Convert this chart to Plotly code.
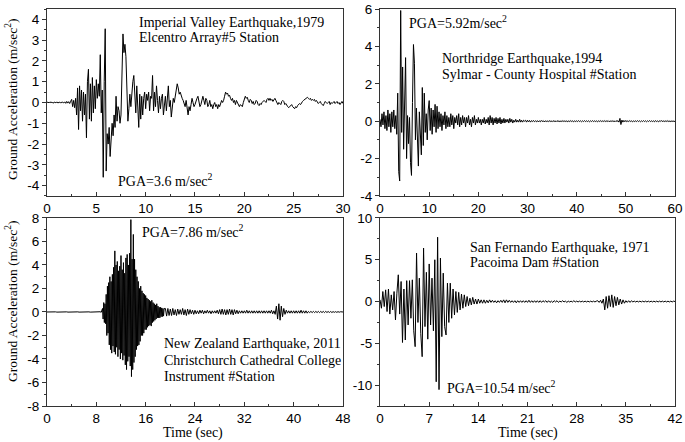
import numpy as np
import plotly.graph_objects as go

# ---------------- data ----------------
imperial_end = 30.0
imperial_acc = [
    0, 0.02, -0.02, 0.03, -0.01, 0.02, -0.03, 0.01, 0.02, -0.02, 0.03, -0.02, 0.01, 0.02, -0.03, 0.02, 0.01, -0.02, 0.03, -0.04, 0.05, -0.03, 0.04, -0.05, 0.06,
    0.15, -0.2, 0.1, -0.25, 0.2,
    -0.6, 0.7, -1.3, 0.8, -0.4, 0.6, -0.9, 0.5, -0.6, 0.4,
    -1.7, 1.0, 1.6, -0.8, 0.9, -0.9, 1.2, -0.5, 0.8, -0.3,
    1.1, 0.2, 0.9, 0.3, 2.3, -0.5, 0.6, -3.6, 1.0, 3.55,
    -3.3, -1.5, -2.0, -1.2, -2.6, -1.8, -1.0, -1.6, -0.6, -1.2,
    0.3, -0.9, -0.2, -0.4, -1.0, -0.6, 1.2, 3.3, 2.4, 2.8,
    2.2, 0.8, -0.9, -0.3, 0.4, -0.2, 0.6, 1.0, 1.3, 0.2,
    -0.5, 0.8, -0.3, -1.2, 0.4, -0.8, 0.3, -0.6, 0.2, 0.5,
    -0.3, 0.4, 0.1, 0.5, -0.4, 0.3, 0.2, 1.3, -0.4, 0.5,
    -0.2, 0.8, 0.1, -0.5, 0.3, -0.3, 0.2, 0.4, -0.6, 0.1,
    0.3, -0.4, 0.2, 0.8, -0.2, 0.1, -0.7, -0.3, 0.2, 0.0,
    0.3, 0.6, 0.9, 0.7, 0.4, 0.5, 0.3, 0.2, 0.1, -0.1,
    -0.2, 0.1, -0.4, -0.6, -0.2, -0.4, -0.1, 0.2, 0.0, -0.2,
    -0.1, 0.1, 0.2, 0.3, 0.1, -0.2, -0.1, 0.2, 0.3, 0.1,
    -0.1, 0.2, 0.1, -0.2, -0.1, 0.1, -0.2, -0.1, -0.3, -0.1,
    0.0, -0.2, -0.1, -0.3, -0.1, -0.2, 0.0, 0.1, 0.0, 0.1,
    0.3, 0.5, 0.4, 0.45, 0.3, 0.35, 0.2, 0.1, 0.2, 0.0,
    0.1, -0.1, 0.1, 0.0, -0.1, -0.2, -0.1, -0.15, -0.2, 0.0,
    0.2, 0.3, 0.2, 0.25, 0.1, 0.0, 0.15, 0.1, -0.05, 0.05,
    -0.1, -0.05, 0.1, 0.05, -0.1, -0.15, -0.05, -0.1, 0.0, 0.05,
    0.1, 0.05, 0.0, 0.15, 0.2, 0.1, 0.2, 0.1, 0.15, 0.05,
    0.1, 0.2, 0.1, -0.05, -0.1, 0.0, -0.05, -0.1, 0.05, 0.1,
    0.05, -0.1, -0.05, -0.15, -0.2, -0.25, -0.2, -0.15, -0.1, -0.2,
    -0.25, -0.3, -0.2, -0.25, -0.15, -0.1, -0.05, -0.1, 0.0, 0.05,
    0.1, 0.15, 0.2, 0.2, 0.25, 0.2, 0.15, 0.2, 0.1, 0.15,
    0.1, 0.15, 0.05, 0.1, 0.0, -0.05, 0.0, 0.05, -0.05, -0.1,
    -0.15, -0.05, 0.05, 0.0, -0.05, 0.0, 0.05, -0.1, 0.0, -0.05,
    0.0, 0.05, -0.05, 0.0, 0.05, -0.05, 0.0, -0.1, 0.0, 0.05, -0.05,
]

northridge_end = 60.0
northridge_acc = [
    0.1, -0.3, 0.4, -0.2, 0.5, -0.4, 0.3, -0.5, 0.6, -0.3,
    0.4, -0.6, 0.5, -0.3, 0.6, -0.4, 0.3, -0.7, 1.5, -2.7,
    -3.2, 5.92, -0.6, 2.9, -1.5, 0.8, 3.4, -2.0, 0.3, -1.2,
    0.2, -2.2, -2.9, 1.0, 4.1, 3.1, -1.0, 0.7, -0.8, -2.4,
    0.5, -0.9, -1.8, 1.8, -1.3, 1.5, -0.6, 0.4, -1.0, 0.6,
    1.1, -0.5, 0.7, -0.7, 0.6, -0.3, 0.9, -0.6, 0.8, -0.4,
    0.5, -0.3, 0.4, -0.5, 0.3, -0.2, 0.5, -0.4, 0.3, -0.3,
    0.2, -0.3, 0.4, -0.2, 0.3, -0.4, 0.2, -0.1, 0.3, -0.2,
    0.4, -0.3, 0.2, -0.2, 0.3, -0.1, 0.2, -0.3, 0.2, -0.1,
    0.3, -0.2, 0.1, -0.3, 0.2, -0.1, 0.3, -0.2, 0.1, -0.1,
    0.2, -0.1, 0.1, -0.2, 0.1, -0.1, 0.2, -0.15, 0.1, -0.1,
    0.2, -0.2, 0.3, -0.1, 0.2, -0.2, 0.15, -0.1, 0.2, -0.15,
    0.15, -0.1, 0.2, -0.15, 0.1, -0.1, 0.15, -0.1, 0.1, -0.05,
    0.1, -0.1, 0.15, -0.05, 0.1, -0.1, 0.05, -0.05, 0.1, -0.05,
    0.05, -0.05, 0.1, -0.05, 0.05, -0.05, 0.05, 0.0, 0.05, -0.05,
    0.05, -0.03, 0.04, -0.05, 0.03, -0.02, 0.04, -0.03, 0.02, -0.03,
    0.03, -0.04, 0.02, -0.03, 0.04, -0.02, 0.03, -0.04, 0.02, -0.02,
    0.02, -0.03, 0.03, -0.02, 0.02, -0.03, 0.03, -0.02, 0.02, -0.03,
    0.03, -0.02, 0.02, -0.03, 0.02, -0.02, 0.03, -0.02, 0.02, -0.02,
    0.02, -0.03, 0.02, -0.02, 0.03, -0.02, 0.02, -0.03, 0.02, -0.02,
    0.02, -0.02, 0.03, -0.02, 0.02, -0.03, 0.02, -0.02, 0.03, -0.02,
    0.02, -0.02, 0.02, -0.03, 0.02, -0.02, 0.03, -0.02, 0.02, -0.02,
    0.02, -0.03, 0.02, -0.02, 0.03, -0.02, 0.02, -0.02, 0.03, -0.02,
    0.02, -0.02, 0.03, -0.03, 0.02, -0.02, 0.03, -0.02, 0.02, -0.03,
    0.03, -0.02, 0.03, -0.05, 0.15, -0.18, 0.06, -0.05, 0.04, -0.03,
    0.04, -0.03, 0.02, -0.02, 0.03, -0.02, 0.02, -0.03, 0.02, -0.02,
    0.02, -0.02, 0.03, -0.02, 0.02, -0.03, 0.02, -0.02, 0.03, -0.02,
    0.02, -0.03, 0.02, -0.02, 0.03, -0.02, 0.02, -0.02, 0.02, -0.03,
    0.03, -0.02, 0.02, -0.03, 0.02, -0.02, 0.04, -0.02, 0.02, -0.02,
    0.02, -0.02, 0.03, -0.02, 0.02, -0.03, 0.02, -0.02, 0.02, -0.02,
    0.0,
]

# Christchurch record in three pieces: quiet start, strong phase, coda
christchurch_pre_span = (0.0, 8.8)
christchurch_pre_acc = [
    0.0, 0.01, -0.01, 0.0, 0.01, -0.01, 0.0, 0.01, -0.01, 0.0,
    0.01, -0.01, 0.0, 0.01, -0.01, 0.0, 0.01, -0.01, 0.0, 0.01,
    -0.01, 0.0, 0.01, -0.01, 0.0, 0.01, -0.01, 0.0, 0.01, -0.01,
    0.0, 0.01, -0.01, 0.0, 0.01, -0.01, 0.0, 0.01, -0.01, 0.0,
    0.01, -0.01, 0.0, 0.02, -0.02,
]
christchurch_main_span = (9.0, 19.0)
christchurch_main_acc = [
    0.3, -0.6, 0.8, -0.9, 0.7, -1.0,
    1.5, -2.0, 2.2, -1.8, 2.5,
    -2.8, 3.0, -3.2, 2.6, -3.5, 3.2, -2.9, 3.8, -3.4,
    5.2, -3.6, 4.0, -3.0, 4.3, -3.8, 3.5, -3.2, 3.9, -4.0,
    4.8, -3.5, 3.6, -4.1, 4.2, -3.7, 3.3, -4.5, 4.6, -4.9,
    4.9, -4.2, 4.0, -3.8, 5.0, -4.6, 7.86, -5.5, 4.5, -4.9,
    6.6, -4.3, 4.5, -3.8, 3.6, -3.2, 3.0, -2.9, 2.6, -2.8,
    2.0, -2.5, 2.2, -2.0, 1.8, -2.0, 1.6, -1.8, 1.5, -1.5,
    1.4, -1.5, 1.2, -1.3, 1.1, -1.2, 1.0, -1.1, 0.9, -1.2,
    1.0, -0.9, 0.8, -0.8, 0.7, -0.7, 0.6, -0.6, 0.7, -0.5,
    0.5, -0.5, 0.4, -0.5, 0.4, -0.4, 0.35, -0.4, 0.3, -0.35,
    0.3,
]
christchurch_post_span = (19.2, 48.0)
christchurch_post_acc = [
    0.3, -0.35, 0.3, -0.3,
    0.25, -0.3, 0.3, -0.25, 0.2,
    -0.3, 0.25, -0.2, 0.2, -0.2,
    0.3, -0.25, 0.2, -0.3, 0.25,
    -0.2, 0.2, -0.15, 0.15, -0.2,
    0.15, -0.15, 0.1, -0.15, 0.15,
    -0.1, 0.15, -0.15, 0.1, -0.1,
    0.15, -0.1, 0.1, -0.15, 0.1,
    -0.1, 0.1, -0.1, 0.15, -0.15,
    0.2, -0.2, 0.25, -0.2, 0.2,
    -0.25, 0.2, -0.2, 0.25, -0.2,
    0.2, -0.25, 0.2, -0.15, 0.15,
    -0.15, 0.1, -0.1, 0.1, -0.1,
    0.1, -0.1, 0.15, -0.1, 0.1,
    -0.1, 0.1, -0.1, 0.1, -0.1,
    0.1, -0.1, 0.1, -0.1, 0.1,
    -0.1, 0.1, -0.1, 0.1, -0.1,
    0.1, -0.1, 0.15, -0.15, 0.1,
    -0.2, 0.5, -0.6, 0.7, -0.7,
    0.5, -0.4, 0.3, -0.2, 0.15,
    -0.1, 0.1, -0.1, 0.1, -0.1,
    0.1, -0.1, 0.1, -0.1, 0.1,
    -0.1, 0.15, -0.1, 0.1, -0.1,
    0.1, -0.1, 0.05, -0.05, 0.05,
    -0.05, 0.05, -0.05, 0.05, -0.05,
    0.05, -0.05, 0.05, -0.05, 0.05,
    -0.05, 0.05, -0.04, 0.04, -0.04,
    0.04, -0.04, 0.03, -0.03, 0.03,
    -0.03, 0.03, -0.02, 0.02, -0.02,
    0.0,
]

sanfernando_end = 42.0
sanfernando_acc = [
    0.2, -0.8, 1.2, -0.6, 1.4,
    -1.2, 1.5, -1.5, 0.8, -1.0,
    1.2, -2.2, 1.0, 3.2, -1.5,
    2.4, -4.9, 1.5, -4.6, 2.5,
    -2.8, 2.5, -2.0, 2.6, -3.5,
    -5.4, 5.8, -2.5, 2.8, -3.8,
    -6.6, 6.4, -3.0, 3.5, -4.5,
    4.5, -2.8, 2.8, -3.5, 5.0,
    -9.6, 7.7, -10.54, 5.2, -4.2,
    3.4, -3.0, -4.0, 2.2, -2.5,
    2.2, -2.0, 1.5, -1.6, 1.2,
    -1.3, 1.1, -1.0, 0.9, -0.8,
    0.8, -0.6, 0.6, -0.5, 0.4,
    -0.4, 0.5, -0.3, 0.3, -0.3,
    0.3, -0.2, 0.2, -0.2, 0.2,
    -0.2, 0.15, -0.15, 0.2, -0.1,
    0.15, -0.1, 0.1, -0.15, 0.1,
    -0.1, 0.15, -0.1, 0.2, -0.15,
    0.2, -0.1, 0.15, -0.1, 0.1,
    -0.1, 0.1, -0.15, 0.1, -0.1,
    0.1, -0.1, 0.1, -0.1, 0.1,
    -0.1, 0.15, -0.1, 0.1, -0.1,
    0.1, -0.1, 0.1, -0.1, 0.1,
    -0.1, 0.1, -0.05, 0.1, -0.1,
    0.1, -0.1, 0.05, -0.1, 0.1,
    -0.05, 0.1, -0.1, 0.05, -0.05,
    0.1, -0.05, 0.05, -0.1, 0.05,
    -0.05, 0.05, -0.05, 0.1, -0.05,
    0.05, -0.05, 0.05, -0.05, 0.05,
    -0.05, 0.05, -0.05, 0.05, -0.05,
    0.05, -0.05, 0.05, -0.05, 0.05,
    0.1, -0.1, 0.15, -0.2, 0.3,
    -1.0, 0.6, -0.8, 0.7, -0.6,
    0.8, -0.7, 0.6, -0.5, 0.5,
    -0.4, 0.3, -0.3, 0.2, -0.2,
    0.1, -0.1, 0.1, -0.1, 0.1,
    -0.05, 0.05, -0.05, 0.05, -0.05,
    0.05, -0.05, 0.05, -0.05, 0.05,
    -0.05, 0.05, -0.05, 0.05, -0.05,
    0.05, -0.05, 0.05, -0.05, 0.05,
    -0.05, 0.05, -0.05, 0.05, -0.05,
    0.05, -0.05, 0.05, -0.05, 0.05,
    0.0,
]

# tick settings
tl_xticks = [0, 5, 10, 15, 20, 25, 30]
tr_xticks = [0, 10, 20, 30, 40, 50, 60]
bl_xticks = [0, 8, 16, 24, 32, 40, 48]
br_xticks = [0, 7, 14, 21, 28, 35, 42]
tl_yticks = [-4, -3, -2, -1, 0, 1, 2, 3, 4]
tr_yticks = [-4, -2, 0, 2, 4, 6]
bl_yticks = [-8, -6, -4, -2, 0, 2, 4, 6, 8]
br_yticks = [-10, -5, 0, 5, 10]


def lab(v):
    return [str(x) for x in v]


def seg(span, vals):
    return np.linspace(span[0], span[1], len(vals))


cc_t = np.concatenate([seg(christchurch_pre_span, christchurch_pre_acc),
                       seg(christchurch_main_span, christchurch_main_acc),
                       seg(christchurch_post_span, christchurch_post_acc)])
cc_a = christchurch_pre_acc + christchurch_main_acc + christchurch_post_acc

records = [
    (np.linspace(0, imperial_end, len(imperial_acc)), imperial_acc, "x", "y"),
    (np.linspace(0, northridge_end, len(northridge_acc)), northridge_acc, "x2", "y2"),
    (cc_t, cc_a, "x3", "y3"),
    (np.linspace(0, sanfernando_end, len(sanfernando_acc)), sanfernando_acc, "x4", "y4"),
]

fig = go.Figure()
for t, acc, xa, ya in records:
    fig.add_trace(go.Scatter(x=t, y=acc, mode="lines", xaxis=xa, yaxis=ya,
                             line=dict(color="black", width=1), showlegend=False,
                             hoverinfo="skip"))

tickfont = dict(family="Liberation Sans, Arial", size=13.5, color="black")
axcol = "#333"


def xax(dom, rng, ticks, minor_dt, anchor):
    return dict(domain=dom, range=rng, anchor=anchor, tickmode="array",
                tickvals=ticks, ticktext=lab(ticks), ticks="inside", ticklen=4,
                tickcolor=axcol, showline=True, linecolor=axcol, linewidth=1,
                mirror=True, showgrid=False, zeroline=False, tickfont=tickfont,
                automargin=False,
                minor=dict(dtick=minor_dt, tick0=0, ticks="inside", ticklen=2,
                           tickcolor=axcol, showgrid=False))


def yax(dom, rng, ticks, minor_dt, anchor):
    return dict(domain=dom, range=rng, anchor=anchor, tickmode="array",
                tickvals=ticks, ticktext=lab(ticks), ticks="outside", ticklen=4,
                tickcolor=axcol, showline=True, linecolor=axcol, linewidth=1,
                mirror=True, showgrid=False, zeroline=False, tickfont=tickfont,
                automargin=False,
                minor=dict(dtick=minor_dt, tick0=0, ticks="outside", ticklen=2,
                           tickcolor=axcol, showgrid=False))


xl = [0, 0.4713]
xr = [0.5303, 1]
yt = [0.529, 1]
yb = [0, 0.4736]

fig.update_layout(
    width=685, height=442,
    margin=dict(l=47, r=10, t=9, b=36, autoexpand=False),
    paper_bgcolor="white", plot_bgcolor="white",
    xaxis=xax(xl, [0, 30], tl_xticks, 2.5, "y"),
    yaxis=yax(yt, [-4.5, 4.5], tl_yticks, 0.5, "x"),
    xaxis2=xax(xr, [0, 60], tr_xticks, 5, "y2"),
    yaxis2=yax(yt, [-4, 6], tr_yticks, 1, "x2"),
    xaxis3=xax(xl, [0, 48], bl_xticks, 4, "y3"),
    yaxis3=yax(yb, [-8, 8], bl_yticks, 1, "x3"),
    xaxis4=xax(xr, [0, 42], br_xticks, 3.5, "y4"),
    yaxis4=yax(yb, [-12.5, 10], br_yticks, 2.5, "x4"),
)

serif = dict(family="Liberation Serif, Times New Roman", size=14, color="black")
notes = [
    ("x", "y", 9.1, 3.86, "Imperial Valley Earthquake,1979"),
    ("x", "y", 9.1, 3.13, "Elcentro Array#5 Station"),
    ("x", "y", 7.0, -3.71, "PGA=3.6 m/sec<sup>2</sup>"),
    ("x2", "y2", 5.5, 5.3, "PGA=5.92m/sec<sup>2</sup>"),
    ("x2", "y2", 12.2, 3.35, "Northridge Earthquake,1994"),
    ("x2", "y2", 12.2, 2.49, "Sylmar - County Hospital #Station"),
    ("x3", "y3", 15.1, 6.88, "PGA=7.86 m/sec<sup>2</sup>"),
    ("x3", "y3", 18.65, -2.72, "New Zealand Earthquake, 2011"),
    ("x3", "y3", 18.65, -4.17, "Christchurch Cathedral College"),
    ("x3", "y3", 18.65, -5.46, "Instrument #Station"),
    ("x4", "y4", 12.5, 6.5, "San Fernando Earthquake, 1971"),
    ("x4", "y4", 12.5, 4.7, "Pacoima Dam #Station"),
    ("x4", "y4", 9.25, -10.24, "PGA=10.54 m/sec<sup>2</sup>"),
]
for xr_, yr_, x, y, txt in notes:
    fig.add_annotation(x=x, y=y, xref=xr_, yref=yr_, text=txt, showarrow=False,
                       xanchor="left", yanchor="middle", font=serif)

serif13 = dict(family="Liberation Serif, Times New Roman", size=13.5, color="black")
for yc in [0.771, 0.262]:
    fig.add_annotation(x=-0.0557, y=yc, xref="paper", yref="paper",
                       text="Ground Acceleration (m/sec<sup>2</sup>)", textangle=-90,
                       showarrow=False, xanchor="center", yanchor="middle", font=serif13)
for xc in [0.2325, 0.7652]:
    fig.add_annotation(x=xc, y=-0.068, xref="paper", yref="paper", text="Time (sec)",
                       showarrow=False, xanchor="center", yanchor="middle", font=serif)

fig.write_html("out.html", config={"displayModeBar": False},
               post_script="document.body.style.margin='0';")
